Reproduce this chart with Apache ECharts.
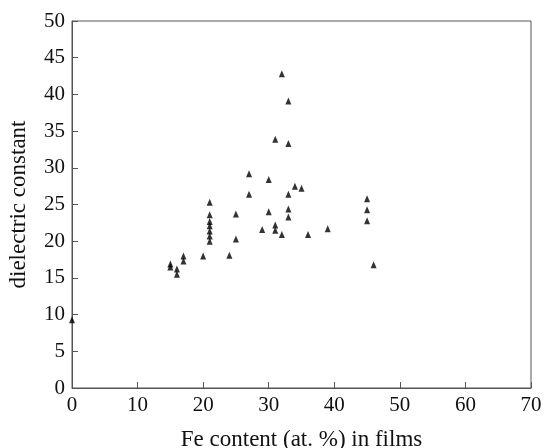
<!DOCTYPE html>
<html>
<head>
<meta charset="utf-8">
<script src="https://cdn.jsdelivr.net/npm/echarts@6/dist/echarts.min.js"></script>
<style>
  html, body { margin: 0; padding: 0; background: #fff; }
  #chart { width: 544px; height: 448px; }
</style>
</head>
<body>
<div id="chart"></div>
<script>
// Fe content (at. %) for each measured film
const feContent = [
  0,
  15, 15, 16, 16, 17, 17, 20,
  21, 21, 21, 21, 21, 21, 21,
  24, 25, 25, 27, 27, 29, 30, 30,
  31, 31, 31, 32, 32,
  33, 33, 33, 33, 33, 34, 35, 36, 39,
  45, 45, 45, 46
]
// dielectric constant for each film (same order)
const dielectric = [
  9.3,
  16.9, 16.5, 16.2, 15.5, 18.0, 17.3, 18.0,
  25.3, 23.6, 22.7, 22.1, 21.4, 20.7, 20.0,
  18.1, 23.7, 20.3, 29.2, 26.4, 21.6, 28.4, 24.0,
  33.9, 22.2, 21.5, 42.8, 20.9,
  39.1, 33.3, 26.4, 24.4, 23.3, 27.5, 27.2, 20.9, 21.7,
  25.8, 24.3, 22.8, 16.8
]

const xTicks = { min: 0, max: 70, interval: 10 }
const yTicks = { min: 0, max: 50, interval: 5 }

const chart = echarts.init(document.getElementById('chart'))

const axisColor = '#555'
const tickFont = {
  fontFamily: 'Liberation Serif',
  fontSize: 21,
  color: '#111'
}
const titleFont = {
  fontFamily: 'Liberation Serif',
  fontSize: 23,
  color: '#111'
}

const option = {
  animation: false,
  grid: {
    left: 72,
    top: 21,
    right: 13,
    bottom: 60,
    outerBoundsMode: 'none',
    containLabel: false,
    show: true,
    borderColor: axisColor,
    borderWidth: 1
  },
  xAxis: {
    type: 'value',
    min: xTicks.min,
    max: xTicks.max,
    interval: xTicks.interval,
    name: 'Fe content (at. %) in films',
    nameLocation: 'middle',
    nameGap: 40,
    nameTextStyle: titleFont,
    axisLine: { lineStyle: { color: axisColor } },
    axisTick: { inside: true, length: 6, lineStyle: { color: axisColor } },
    axisLabel: { ...tickFont, margin: 7 },
    splitLine: { show: false }
  },
  yAxis: {
    type: 'value',
    min: yTicks.min,
    max: yTicks.max,
    interval: yTicks.interval,
    name: 'dielectric constant',
    nameLocation: 'middle',
    nameGap: 42,
    nameTextStyle: titleFont,
    axisLine: { show: true, lineStyle: { color: axisColor } },
    axisTick: { show: true, inside: true, length: 6, lineStyle: { color: axisColor } },
    axisLabel: { ...tickFont, margin: 7 },
    splitLine: { show: false }
  },
  series: [
    {
      type: 'scatter',
      symbol: 'triangle',
      symbolSize: [6, 7],
      itemStyle: { color: '#000' },
      data: feContent.map((x, i) => [x, dielectric[i]])
    }
  ]
}

chart.setOption(option)
</script>
</body>
</html>
